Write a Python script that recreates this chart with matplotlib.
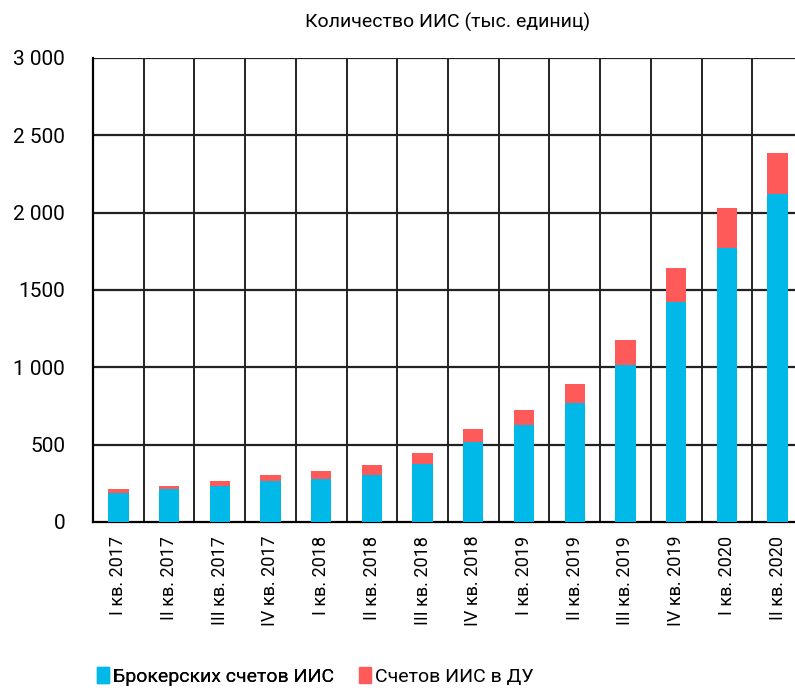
import matplotlib.pyplot as plt
from matplotlib.patches import Patch
import numpy as np

plt.rcParams['font.family'] = ['Liberation Sans Narrow', 'Roboto', 'DejaVu Sans']

quarters = ['I кв. 2017', 'II кв. 2017', 'III кв. 2017', 'IV кв. 2017',
            'I кв. 2018', 'II кв. 2018', 'III кв. 2018', 'IV кв. 2018',
            'I кв. 2019', 'II кв. 2019', 'III кв. 2019', 'IV кв. 2019',
            'I кв. 2020', 'II кв. 2020']
broker = [190, 213, 235, 263, 276, 302, 377, 517, 627, 769, 1013, 1422, 1771, 2118]
total = [211, 235, 263, 302, 328, 366, 448, 599, 722, 890, 1175, 1640, 2032, 2385]
du = [t - b for t, b in zip(total, broker)]

yticks = [0, 500, 1000, 1500, 2000, 2500, 3000]
ytick_labels = ['0', '500', '1 000', '1500', '2 000', '2 500', '3 000']

blue = '#00B9E9'
red = '#FF5A5A'

fig = plt.figure(figsize=(7.95, 6.88), dpi=100)
ax = fig.add_axes([0.117, 0.2413, 0.893, 0.6744])

x = np.arange(len(quarters))
ax.bar(x, broker, width=0.4, color=blue, zorder=3)
ax.bar(x, du, width=0.4, bottom=broker, color=red, zorder=3)

ax.set_xlim(-0.5, len(quarters) - 0.5)
ax.set_ylim(0, 3000)
ax.set_yticks(yticks)
ax.set_yticklabels(ytick_labels, fontsize=15)
ax.set_xticks(x)
ax.set_xticklabels(quarters, rotation=90, fontsize=13)
ax.tick_params(axis='x', length=0, pad=10)
ax.tick_params(axis='y', length=0, pad=20)

# grid: horizontal at y ticks, vertical between categories
for y in yticks[1:]:
    ax.axhline(y, color='#222222', lw=1.6, zorder=1)
for xb in np.arange(0.5, len(quarters) - 0.5, 1):
    ax.axvline(xb, color='#222222', lw=1.4, zorder=1)

for s in ['top', 'right']:
    ax.spines[s].set_visible(False)
ax.spines['left'].set_linewidth(1.6)
ax.spines['bottom'].set_linewidth(1.6)

fig.text(0.563, 0.968, 'Количество ИИС (тыс. единиц)', ha='center', va='center', fontsize=14)

leg_kw = dict(frameon=False, fontsize=14, handlelength=0.6, handleheight=0.9,
              handletextpad=0.2, borderpad=0, borderaxespad=0, loc='center left')
leg1 = fig.legend(handles=[Patch(color=blue, label='Брокерских счетов ИИС')],
                  bbox_to_anchor=(0.122, 0.017), **leg_kw)
fig.add_artist(leg1)
fig.legend(handles=[Patch(color=red, label='Счетов ИИС в ДУ')],
           bbox_to_anchor=(0.452, 0.017), **leg_kw)

fig.savefig('out.png', dpi=100)
